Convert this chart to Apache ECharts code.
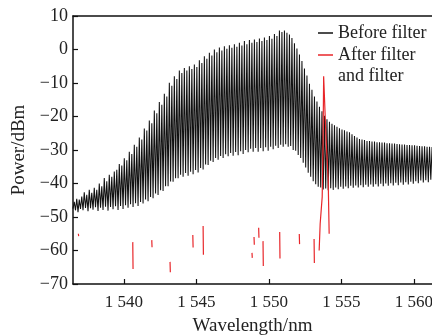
<!DOCTYPE html>
<html>
<head>
<meta charset="utf-8">
<script src="https://cdn.jsdelivr.net/npm/echarts@6/dist/echarts.min.js"></script>
<style>
html,body{margin:0;padding:0;background:#fff;}
#chart{width:432px;height:335px;}
</style>
</head>
<body>
<div id="chart"></div>
<script>
// ---- data ----
const xTicks = [1540, 1545, 1550, 1555, 1560];
const yTicks = [-70, -60, -50, -40, -30, -20, -10, 0, 10];

// comb spectrum (before filter): evenly spaced comb lines
const combStartNm = 1536.5;
const combSpacingNm = 0.1725;
// trough levels (dBm), one per comb period
const combTroughs = [
  -47.5, -48.0, -48.6, -47.6, -48.0, -47.3, -48.3, -47.4, -47.8, -47.1,
  -48.2, -47.2, -47.9, -46.9, -48.1, -47.0, -47.7, -46.8, -47.9, -46.7,
  -47.6, -46.5, -47.2, -46.2, -47.0, -45.9, -46.7, -45.5, -46.0, -44.8,
  -45.3, -44.0, -44.4, -43.0, -43.4, -42.0, -42.2, -40.8, -40.8, -39.4,
  -39.5, -38.4, -38.4, -37.4, -38.0, -36.9, -37.7, -36.5, -37.2, -36.0,
  -36.7, -35.4, -35.8, -34.3, -34.5, -33.2, -33.6, -32.4, -32.9, -31.8,
  -32.4, -31.3, -31.9, -30.9, -31.7, -30.6, -31.6, -30.4, -31.2, -30.0,
  -30.7, -29.6, -30.5, -29.4, -30.5, -29.4, -30.4, -29.2, -30.2, -29.0,
  -29.8, -28.7, -29.4, -28.4, -29.0, -28.3, -29.0, -28.8, -30.0, -30.2,
  -31.5, -32.4, -33.8, -35.2, -36.8, -38.0, -39.3, -40.2, -41.0, -41.2,
  -41.8, -41.5, -42.0, -41.4, -41.9, -41.2, -41.7, -41.0, -41.6, -40.9,
  -41.4, -40.7, -41.3, -40.6, -41.2, -40.5, -41.1, -40.4, -41.0, -40.3,
  -41.0, -40.2, -40.9, -40.1, -40.8, -40.0, -40.7, -39.9, -40.6, -39.8,
  -40.5, -39.7, -40.4, -39.6, -40.3, -39.5, -40.1, -39.3, -39.9, -39.1,
  -39.7, -39.0, -39.6, -38.9, -39.5
];
// peak levels (dBm), one per comb period
const combPeaks = [
  -45.5, -44.6, -44.8, -43.9, -42.6, -43.4, -41.9, -42.8, -41.3, -41.9,
  -40.0, -40.8, -38.4, -39.3, -37.4, -38.0, -36.4, -35.9, -34.2, -34.6,
  -32.5, -33.1, -30.5, -31.2, -28.4, -29.0, -26.3, -26.9, -23.6, -24.2,
  -21.2, -22.0, -18.2, -19.0, -15.7, -16.5, -13.2, -14.0, -9.9, -10.8,
  -8.0, -8.8, -6.3, -7.0, -5.5, -6.3, -5.0, -5.8, -4.5, -5.2,
  -3.2, -4.0, -2.0, -2.8, -1.0, -1.8, 0.0, -0.8, 0.6, -0.3,
  1.0, 0.2, 1.3, 0.5, 1.6, 0.8, 2.0, 1.2, 2.5, 1.6,
  2.8, 2.0, 3.0, 2.2, 3.3, 2.5, 3.6, 2.8, 4.0, 3.2,
  4.6, 4.0, 5.7, 5.2, 5.7, 5.0, 4.5, 3.4, 1.9, 0.3,
  -1.5, -3.4, -5.7, -7.8, -10.2, -12.0, -14.0, -15.5, -17.1, -18.4,
  -19.8, -20.8, -21.6, -22.2, -22.6, -23.1, -23.5, -23.9, -24.1, -24.5,
  -24.7, -25.3, -25.8, -26.3, -26.7, -26.9, -27.0, -27.3, -27.3, -27.5,
  -27.5, -27.7, -27.7, -27.8, -27.8, -28.0, -28.0, -28.1, -28.1, -28.2,
  -28.3, -28.4, -28.4, -28.5, -28.5, -28.6, -28.6, -28.7, -28.8, -28.9,
  -28.9, -29.0, -29.0, -29.1
];

// after filter: short red segments (wavelength, top, bottom)
const redSegX    = [1536.87, 1540.62, 1541.93, 1543.19, 1544.76, 1545.47, 1548.84, 1548.98, 1549.30, 1549.60, 1550.75, 1552.10, 1553.12];
const redSegTop  = [-55.0,   -57.5,   -56.9,   -63.4,   -55.4,   -52.7,   -60.7,   -56.0,   -53.2,   -57.2,   -54.5,   -55.1,   -56.6];
const redSegBot  = [-55.7,   -65.5,   -59.0,   -66.5,   -59.1,   -61.3,   -62.2,   -58.3,   -56.2,   -64.6,   -62.4,   -58.1,   -63.7];
// after filter: the passed comb line
const redPeakX = [1553.47, 1553.54, 1553.68, 1553.74, 1553.78, 1553.82, 1553.95, 1554.09, 1554.16];
const redPeakY = [-60.0,   -52.0,   -44.0,   -27.0,   -8.0,    -8.0,    -27.0,   -38.5,   -55.0];

// ---- build series data ----
const blackData = [];
for (let i = 0; i < combTroughs.length; i++) {
  const x0 = combStartNm + i * combSpacingNm;
  blackData.push([x0, combTroughs[i]]);
  if (i < combPeaks.length) blackData.push([x0 + combSpacingNm / 2, combPeaks[i]]);
}
const redData = [];
for (let i = 0; i < redSegX.length; i++) {
  redData.push([redSegX[i], redSegTop[i]]);
  redData.push([redSegX[i] + 0.02, redSegBot[i]]);
  redData.push(null);
}
for (let i = 0; i < redPeakX.length; i++) redData.push([redPeakX[i], redPeakY[i]]);

const FONT = '"Liberation Serif", "Times New Roman", serif';
const fmtMinus = v => String(v).replace('-', '\u2212');

const chart = echarts.init(document.getElementById('chart'), null, {renderer: 'canvas'});
chart.setOption({
  animation: false,
  backgroundColor: '#ffffff',
  grid: {left: 73, right: 0, top: 16, bottom: 51, containLabel: false, outerBoundsMode: 'none'},
  legend: {
    orient: 'vertical', left: 318, top: 24, itemGap: 4, padding: 0,
    itemWidth: 15, itemHeight: 1.5, icon: 'rect',
    textStyle: {fontFamily: FONT, fontSize: 18, color: '#222'},
    data: ['Before filter', 'After filter']
  },
  graphic: [{
    type: 'text', left: 338, top: 67,
    style: {text: 'and filter', font: '18px ' + FONT, fill: '#222'}
  }],
  xAxis: [{
    type: 'value', min: 1536.5, max: 1561.25,
    name: 'Wavelength/nm', nameLocation: 'middle', nameGap: 33,
    nameTextStyle: {fontFamily: FONT, fontSize: 19, color: '#222'},
    axisLine: {onZero: false, lineStyle: {color: '#111', width: 1.5}},
    axisTick: {inside: true, length: 5, lineStyle: {color: '#111', width: 1.2}, customValues: xTicks},
    axisLabel: {
      customValues: xTicks, margin: 10,
      fontFamily: FONT, fontSize: 17, color: '#222',
      formatter: v => { const s = String(v); return s[0] + ' ' + s.slice(1); }
    },
    splitLine: {show: false}
  }, {
    type: 'value', position: 'top', min: 1536.5, max: 1561.25,
    axisLine: {show: true, onZero: false, lineStyle: {color: '#111', width: 1.5}},
    axisTick: {show: false}, axisLabel: {show: false}, splitLine: {show: false}
  }],
  yAxis: {
    type: 'value', min: -70, max: 10, interval: 10,
    name: 'Power/dBm', nameLocation: 'middle', nameGap: 41, nameRotate: 90,
    nameTextStyle: {fontFamily: FONT, fontSize: 19, color: '#222'},
    axisLine: {show: true, onZero: false, lineStyle: {color: '#111', width: 1.5}},
    axisTick: {inside: true, length: 5, lineStyle: {color: '#111', width: 1.2}},
    axisLabel: {fontFamily: FONT, fontSize: 18, color: '#222', margin: 5, formatter: fmtMinus},
    splitLine: {show: false}
  },
  series: [{
    name: 'Before filter', type: 'line', data: blackData,
    showSymbol: false, symbol: 'none',
    lineStyle: {color: '#111111', width: 1.05},
    itemStyle: {color: '#111111'}
  }, {
    name: 'After filter', type: 'line', data: redData,
    showSymbol: false, symbol: 'none', connectNulls: false,
    lineStyle: {color: '#e8262a', width: 1.2},
    itemStyle: {color: '#e8262a'}
  }]
});
</script>
</body>
</html>
